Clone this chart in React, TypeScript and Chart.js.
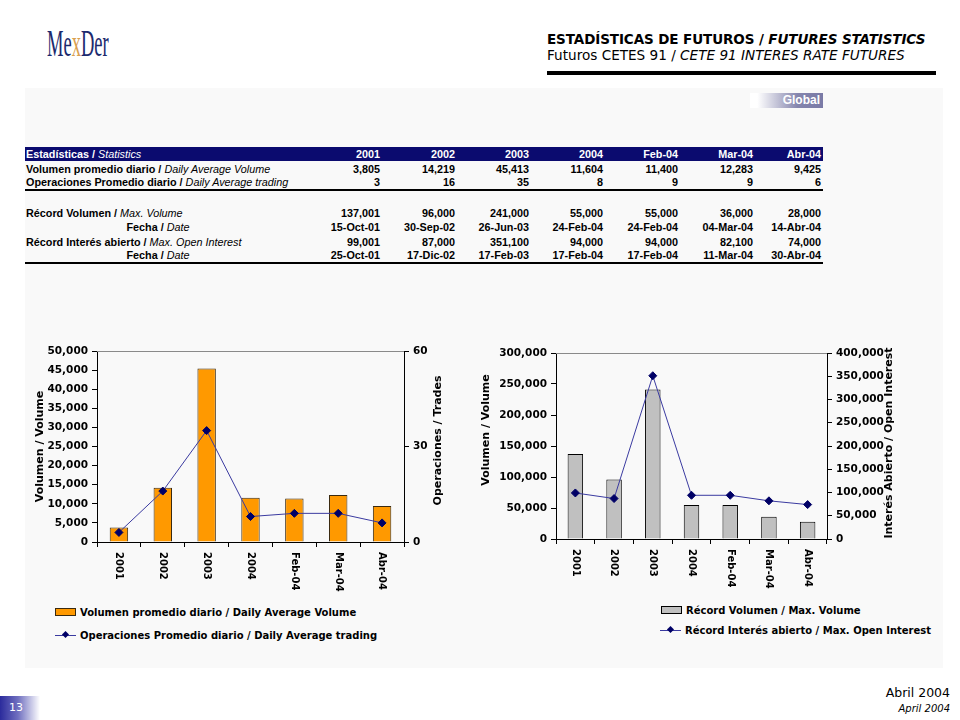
import React, { useEffect, useRef } from 'react';
import { Chart, registerables } from 'chart.js';
Chart.register(...registerables);

// ---------- DATA ----------
const categories = ['2001', '2002', '2003', '2004', 'Feb-04', 'Mar-04', 'Abr-04'];
const avgVolume = [3805, 14219, 45413, 11604, 11400, 12283, 9425];
const avgTrades = [3, 16, 35, 8, 9, 9, 6];
const maxVolume = [137001, 96000, 241000, 55000, 55000, 36000, 28000];
const maxVolumeDate = ['15-Oct-01', '30-Sep-02', '26-Jun-03', '24-Feb-04', '24-Feb-04', '04-Mar-04', '14-Abr-04'];
const maxOpenInterest = [99001, 87000, 351100, 94000, 94000, 82100, 74000];
const maxOpenInterestDate = ['25-Oct-01', '17-Dic-02', '17-Feb-03', '17-Feb-04', '17-Feb-04', '11-Mar-04', '30-Abr-04'];

const fmt = (v: number) => Number(v).toLocaleString('en-US');

const CHART_FONT = '"DejaVu Sans", Verdana, sans-serif';
const TABLE_FONT = '"Liberation Sans", Arial, sans-serif';
const NAVY = '#0b0b6f';

type TitleSpec = { text: string; dx: (a: any) => number; dy: (a: any) => number };

type ComboProps = {
  left: number; top: number; width: number; height: number;
  barData: number[]; lineData: number[];
  barColor: string; barBorder: string; barPct: number;
  yMax: number; yStep: number; y1Max: number; y1Step: number;
  leftW: number; rightW: number; bottomH: number; padTop: number;
  titles: TitleSpec[];
};

function ComboChart(p: ComboProps) {
  const ref = useRef<HTMLCanvasElement | null>(null);
  useEffect(() => {
    if (!ref.current) return;
    const overlay = {
      id: 'overlay',
      afterDraw(chart: any) {
        const { ctx, chartArea: a, scales } = chart;
        ctx.save();
        ctx.strokeStyle = '#8a8a8a';
        ctx.lineWidth = 1;
        ctx.beginPath();
        ctx.moveTo(a.left, Math.round(a.top) + 0.5);
        ctx.lineTo(a.right, Math.round(a.top) + 0.5);
        ctx.stroke();
        ctx.fillStyle = '#000';
        ctx.font = `bold 10px ${CHART_FONT}`;
        ctx.textAlign = 'left';
        ctx.textBaseline = 'middle';
        categories.forEach((c, i) => {
          const x = scales.x.getPixelForValue(i);
          ctx.save();
          ctx.translate(x, a.bottom + 10);
          ctx.rotate(Math.PI / 2);
          ctx.fillText(c, 0, 0);
          ctx.restore();
        });
        ctx.font = `bold 11px ${CHART_FONT}`;
        ctx.textAlign = 'center';
        p.titles.forEach((t) => {
          ctx.save();
          ctx.translate(t.dx(a), t.dy(a));
          ctx.rotate(-Math.PI / 2);
          ctx.fillText(t.text, 0, 0);
          ctx.restore();
        });
        ctx.restore();
      },
    };
    const tickFont = { family: CHART_FONT, size: 10.5, weight: 'bold' as const };
    const chart = new Chart(ref.current, {
      type: 'bar',
      data: {
        labels: categories,
        datasets: [
          {
            type: 'line' as const,
            data: p.lineData,
            yAxisID: 'y1',
            borderColor: '#3a3aa0',
            borderWidth: 1,
            pointStyle: 'rectRot',
            pointRadius: 4,
            pointBackgroundColor: '#000066',
            pointBorderColor: '#000066',
            pointBorderWidth: 1,
            order: 0,
          } as any,
          {
            type: 'bar' as const,
            data: p.barData,
            yAxisID: 'y',
            backgroundColor: p.barColor,
            borderColor: p.barBorder,
            borderWidth: 1,
            barPercentage: p.barPct,
            categoryPercentage: 1,
            order: 1,
          },
        ],
      },
      options: {
        animation: false,
        responsive: false,
        maintainAspectRatio: false,
        layout: { padding: { top: p.padTop, left: 0, right: 0, bottom: 0 } },
        plugins: { legend: { display: false }, tooltip: { enabled: false } },
        scales: {
          x: {
            offset: true,
            grid: { offset: true, drawOnChartArea: false, drawTicks: true, tickLength: 5, color: '#000' },
            border: { display: true, color: '#000' },
            ticks: { display: false },
            afterFit: (s: any) => { s.height = p.bottomH; },
          },
          y: {
            position: 'left',
            min: 0, max: p.yMax,
            ticks: { stepSize: p.yStep, font: tickFont, color: '#000', padding: 4, callback: (v: any) => fmt(v) },
            grid: { drawOnChartArea: false, tickLength: 5, color: '#000' },
            border: { display: true, color: '#000' },
            afterFit: (s: any) => { s.width = p.leftW; },
          },
          y1: {
            position: 'right',
            min: 0, max: p.y1Max,
            ticks: { stepSize: p.y1Step, font: tickFont, color: '#000', padding: 4, callback: (v: any) => fmt(v) },
            grid: { drawOnChartArea: false, tickLength: 5, color: '#000' },
            border: { display: true, color: '#000' },
            afterFit: (s: any) => { s.width = p.rightW; },
          },
        },
      },
      plugins: [overlay],
    });
    return () => chart.destroy();
  }, []);
  return (
    <canvas
      ref={ref}
      width={p.width}
      height={p.height}
      style={{ position: 'absolute', left: p.left, top: p.top, width: p.width, height: p.height }}
    />
  );
}

function LegendBar({ left, top, color, border, text }: any) {
  return (
    <div style={{ position: 'absolute', left, top, height: 14, display: 'flex', alignItems: 'center', font: `bold 10px ${CHART_FONT}`, color: '#000', whiteSpace: 'nowrap' }}>
      <div style={{ width: 19, height: 6, background: color, border: `1px solid ${border}`, marginRight: 4 }} />
      {text}
    </div>
  );
}

function LegendLine({ left, top, text }: any) {
  return (
    <div style={{ position: 'absolute', left, top, height: 14, display: 'flex', alignItems: 'center', font: `bold 10px ${CHART_FONT}`, color: '#000', whiteSpace: 'nowrap' }}>
      <div style={{ position: 'relative', width: 21, height: 14, marginRight: 4 }}>
        <div style={{ position: 'absolute', left: 0, top: 7, width: 21, height: 1, background: '#3a3aa0' }} />
        <div style={{ position: 'absolute', left: 8, top: 4, width: 5, height: 5, background: '#000066', transform: 'rotate(45deg)' }} />
      </div>
      {text}
    </div>
  );
}

// ---------- TABLE ----------
const colRight = [380, 455, 529, 603, 678, 753, 821];

function Label({ bold, italic, center, top }: any) {
  return (
    <div style={{ position: 'absolute', left: 26, width: 264, top, height: 14, lineHeight: '14px', textAlign: center ? 'center' : 'left', whiteSpace: 'nowrap' }}>
      <span style={{ fontWeight: 'bold' }}>{bold} / </span>
      <span style={{ fontStyle: 'italic', fontWeight: 'normal' }}>{italic}</span>
    </div>
  );
}

function Cells({ values, top, color }: any) {
  return (
    <>
      {values.map((v: string, i: number) => (
        <div key={i} style={{ position: 'absolute', left: colRight[i] - 70, width: 70, top, height: 14, lineHeight: '14px', textAlign: 'right', fontWeight: 'bold', color: color || '#000' }}>{v}</div>
      ))}
    </>
  );
}

function StatsTable() {
  return (
    <div style={{ position: 'absolute', left: 0, top: 0, font: `10.8px ${TABLE_FONT}`, color: '#000' }}>
      <div style={{ position: 'absolute', left: 25, top: 147, width: 798, height: 14, background: NAVY }} />
      <div style={{ position: 'absolute', left: 26, top: 147, height: 14, lineHeight: '14px', color: '#fff', whiteSpace: 'nowrap' }}>
        <span style={{ fontWeight: 'bold' }}>Estadísticas / </span>
        <span style={{ fontStyle: 'italic' }}>Statistics</span>
      </div>
      <Cells values={categories} top={147} color="#fff" />
      <Label bold="Volumen promedio diario" italic="Daily Average Volume" top={162} />
      <Cells values={avgVolume.map(fmt)} top={162} />
      <Label bold="Operaciones Promedio diario" italic="Daily Average trading" top={175} />
      <Cells values={avgTrades.map(fmt)} top={175} />
      <div style={{ position: 'absolute', left: 25, top: 189, width: 798, height: 2, background: '#000' }} />
      <Label bold="Récord Volumen" italic="Max. Volume" top={206} />
      <Cells values={maxVolume.map(fmt)} top={206} />
      <Label bold="Fecha" italic="Date" center top={220} />
      <Cells values={maxVolumeDate} top={220} />
      <Label bold="Récord Interés abierto" italic="Max. Open Interest" top={235} />
      <Cells values={maxOpenInterest.map(fmt)} top={235} />
      <Label bold="Fecha" italic="Date" center top={248} />
      <Cells values={maxOpenInterestDate} top={248} />
      <div style={{ position: 'absolute', left: 25, top: 262, width: 798, height: 2, background: '#000' }} />
    </div>
  );
}

export default function App() {
  return (
    <div style={{ position: 'absolute', left: 0, top: 0, width: 960, height: 720, background: '#fff', overflow: 'hidden' }}>
      {/* logo */}
      <div style={{ position: 'absolute', left: 47, top: 22, font: '37px "Liberation Serif", serif', color: '#1c2a6e', transform: 'scaleX(0.5)', transformOrigin: 'left top', whiteSpace: 'nowrap' }}>
        Me<span style={{ color: '#d9a050' }}>x</span>Der
      </div>
      {/* header */}
      <div style={{ position: 'absolute', left: 547, top: 31, font: `bold 13.5px ${CHART_FONT}`, whiteSpace: 'nowrap', color: '#000', letterSpacing: -0.1 }}>
        ESTADÍSTICAS DE FUTUROS / <i>FUTURES STATISTICS</i>
      </div>
      <div style={{ position: 'absolute', left: 547, top: 47, font: `13.6px ${CHART_FONT}`, whiteSpace: 'nowrap', color: '#000' }}>
        Futuros CETES 91 / <i>CETE 91 INTERES RATE FUTURES</i>
      </div>
      <div style={{ position: 'absolute', left: 547, top: 71, width: 389, height: 4, background: '#000' }} />
      {/* panel */}
      <div style={{ position: 'absolute', left: 25, top: 88, width: 918, height: 580, background: '#f9f9f9' }} />
      {/* Global */}
      <div style={{ position: 'absolute', left: 750, top: 93, width: 73, height: 15, background: 'linear-gradient(to right, #ffffff, #ffffff 10%, #8585ad 65%, #7a7aa6)', color: '#fff', font: `bold 12px ${TABLE_FONT}`, lineHeight: '15px', textAlign: 'right', paddingRight: 3, boxSizing: 'border-box' }}>
        Global
      </div>
      <StatsTable />
      <ComboChart
        left={30} top={335} width={430} height={265}
        barData={avgVolume} lineData={avgTrades}
        barColor="#FF9900" barBorder="#3a2a10" barPct={0.42}
        yMax={50000} yStep={5000} y1Max={60} y1Step={30}
        leftW={67} rightW={56} bottomH={58} padTop={16}
        titles={[
          { text: 'Volumen / Volume', dx: (a) => a.left - 57, dy: (a) => (a.top + a.bottom) / 2 },
          { text: 'Operaciones / Trades', dx: (a) => a.right + 34, dy: (a) => (a.top + a.bottom) / 2 - 6 },
        ]}
      />
      <LegendBar left={55} top={605} color="#FF9900" border="#3a2a10" text="Volumen promedio diario / Daily Average Volume" />
      <LegendLine left={55} top={628} text="Operaciones Promedio diario / Daily Average trading" />
      <ComboChart
        left={475} top={335} width={430} height={265}
        barData={maxVolume} lineData={maxOpenInterest}
        barColor="#C0C0C0" barBorder="#000" barPct={0.4}
        yMax={300000} yStep={50000} y1Max={400000} y1Step={50000}
        leftW={81} rightW={78} bottomH={61} padTop={18}
        titles={[
          { text: 'Volumen / Volume', dx: (a) => a.left - 70, dy: (a) => (a.top + a.bottom) / 2 - 16 },
          { text: 'Interés Abierto / Open Interest', dx: (a) => a.right + 62, dy: (a) => (a.top + a.bottom) / 2 - 3 },
        ]}
      />
      <LegendBar left={661} top={603} color="#C0C0C0" border="#000" text="Récord Volumen / Max. Volume" />
      <LegendLine left={660} top={623} text="Récord Interés abierto / Max. Open Interest" />
      {/* footer */}
      <div style={{ position: 'absolute', right: 10, top: 685, font: `12.5px ${CHART_FONT}`, color: '#000', whiteSpace: 'nowrap' }}>Abril 2004</div>
      <div style={{ position: 'absolute', right: 10, top: 703, font: `italic 10px ${CHART_FONT}`, color: '#000', whiteSpace: 'nowrap' }}>April 2004</div>
      <div style={{ position: 'absolute', left: 0, top: 696, width: 40, height: 24, background: 'linear-gradient(to right, #2b2b9c, #7070c0 45%, #ffffff)' }} />
      <div style={{ position: 'absolute', left: 9, top: 701, font: `11px ${CHART_FONT}`, color: '#fff' }}>13</div>
    </div>
  );
}
